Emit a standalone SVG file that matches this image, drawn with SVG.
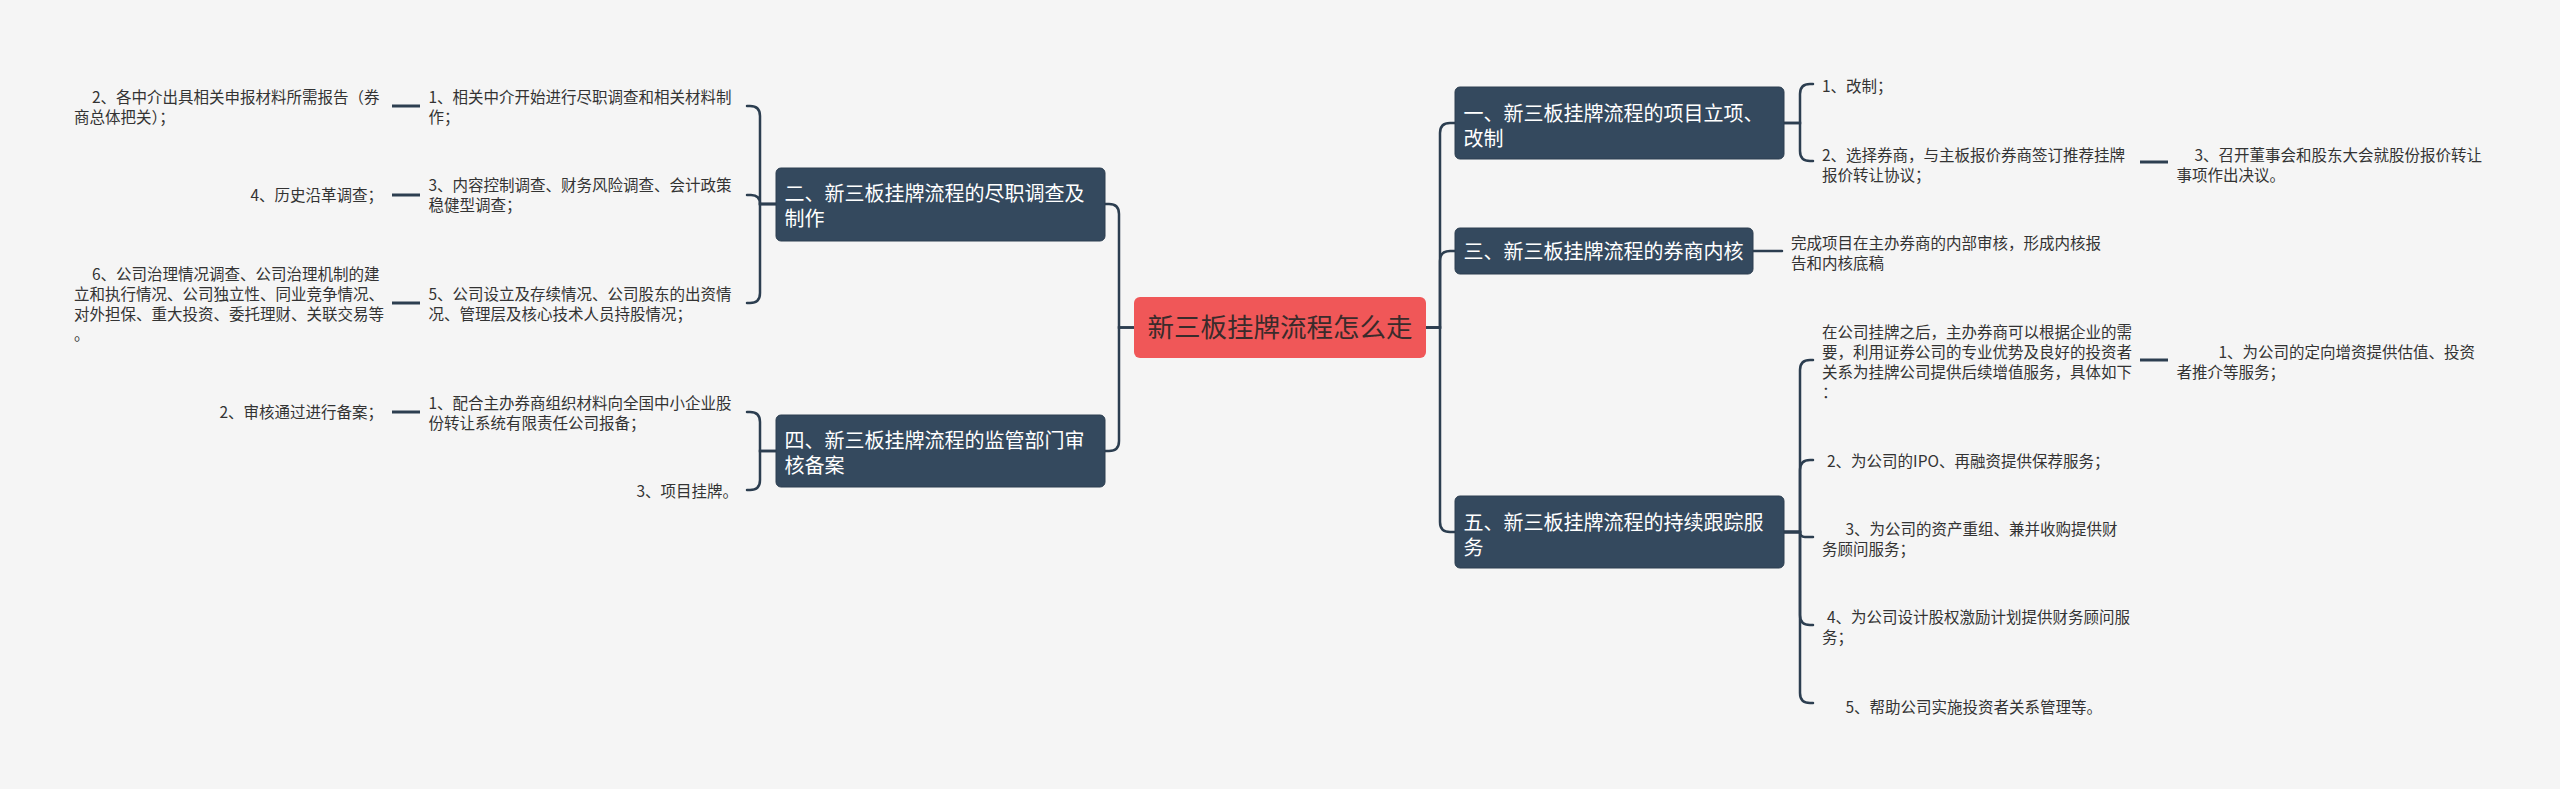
<svg xmlns="http://www.w3.org/2000/svg" width="2560" height="789" viewBox="0 0 2560 789">
<style>
.bg{fill:#f5f5f5}
.ln{fill:none;stroke:#2c3e50;stroke-width:2.5;stroke-linecap:round}
.dash{fill:none;stroke:#2c3e50;stroke-width:3}
.box{fill:#34495e;stroke:#2c3e50;stroke-width:1}
.root{fill:#f05758}
.t{font-family:"Noto Sans CJK SC","Noto Sans",sans-serif;font-size:15.5px;fill:#333333}
.h{font-family:"Noto Sans CJK SC","Noto Sans",sans-serif;font-size:20px;fill:#ffffff}
.r{font-family:"Noto Sans CJK SC","Noto Sans",sans-serif;font-size:26.5px;fill:#3a2b2b}
.e{text-anchor:end}
</style>
<rect class="bg" x="0" y="0" width="2560" height="789"/>
<g id="connectors">
<path class="ln" d="M1134,327.5 H1119 V214 Q1119,204 1109,204 H1105"/>
<path class="ln" d="M1134,327.5 H1119 V441 Q1119,451 1109,451 H1105"/>
<path class="ln" d="M1426,327.5 H1440 V133 Q1440,123 1450,123 H1455"/>
<path class="ln" d="M1426,327.5 H1440 V261 Q1440,251 1450,251 H1455"/>
<path class="ln" d="M1426,327.5 H1440 V522 Q1440,532 1450,532 H1455"/>
<path class="ln" d="M776,204 H760 V116 Q760,106 750,106 H747"/>
<path class="ln" d="M776,204 H760 Q760,195 751,195 H747"/>
<path class="ln" d="M776,204 H760 V293 Q760,303 750,303 H747"/>
<path class="ln" d="M776,451 H760 V422 Q760,412 750,412 H747"/>
<path class="ln" d="M776,451 H760 V480 Q760,490 750,490 H747"/>
<path class="dash" d="M420,106 H392"/>
<path class="dash" d="M420,195 H392"/>
<path class="dash" d="M420,303 H392"/>
<path class="dash" d="M420,412 H392"/>
<path class="ln" d="M1784,123 H1800 V94 Q1800,84 1810,84 H1813"/>
<path class="ln" d="M1784,123 H1800 V151 Q1800,161 1810,161 H1813"/>
<path class="dash" d="M2140,162 H2168"/>
<path class="ln" d="M1753,251 H1782"/>
<path class="ln" d="M1784,532 H1800 V370 Q1800,360 1810,360 H1813"/>
<path class="ln" d="M1784,532 H1800 V470 Q1800,460 1810,460 H1813"/>
<path class="ln" d="M1784,532 H1800 Q1800,537 1805,537 H1813"/>
<path class="ln" d="M1784,532 H1800 V615 Q1800,625 1810,625 H1813"/>
<path class="ln" d="M1784,532 H1800 V693 Q1800,703 1810,703 H1813"/>
<path class="dash" d="M2140,360 H2168"/>
</g>
<g id="root">
<rect class="root" x="1134" y="297" width="292" height="61" rx="6"/>
<text class="r" x="1280" y="337" text-anchor="middle">新三板挂牌流程怎么走</text>
</g>
<g id="n2">
<rect class="box" x="776" y="168" width="329" height="73" rx="5"/>
<text class="h" x="784.5" y="201">二、新三板挂牌流程的尽职调查及</text>
<text class="h" x="784.5" y="226">制作</text>
</g>
<g id="n4">
<rect class="box" x="776" y="415" width="329" height="72" rx="5"/>
<text class="h" x="784.5" y="448">四、新三板挂牌流程的监管部门审</text>
<text class="h" x="784.5" y="473">核备案</text>
</g>
<g id="n1">
<rect class="box" x="1455" y="87" width="329" height="72" rx="5"/>
<text class="h" x="1463.5" y="121">一、新三板挂牌流程的项目立项、</text>
<text class="h" x="1463.5" y="146">改制</text>
</g>
<g id="n3">
<rect class="box" x="1455" y="228" width="298" height="46" rx="5"/>
<text class="h" x="1463.5" y="259">三、新三板挂牌流程的券商内核</text>
</g>
<g id="n5">
<rect class="box" x="1455" y="496" width="329" height="72" rx="5"/>
<text class="h" x="1463.5" y="530">五、新三板挂牌流程的持续跟踪服</text>
<text class="h" x="1463.5" y="555">务</text>
</g>
<g id="n2-1">
<text class="t" x="428.5" y="102.6">1、相关中介开始进行尽职调查和相关材料制</text>
<text class="t" x="428.5" y="122.6">作；</text>
</g>
<g id="n2-1-1">
<text class="t" x="92" y="102.6">2、各中介出具相关申报材料所需报告（券</text>
<text class="t" x="74" y="122.6">商总体把关）；</text>
</g>
<g id="n2-3">
<text class="t" x="428.5" y="191">3、内容控制调查、财务风险调查、会计政策</text>
<text class="t" x="428.5" y="211">稳健型调查；</text>
</g>
<g id="n2-3-1">
<text class="t e" x="383" y="201">4、历史沿革调查；</text>
</g>
<g id="n2-5">
<text class="t" x="428.5" y="300">5、公司设立及存续情况、公司股东的出资情</text>
<text class="t" x="428.5" y="320">况、管理层及核心技术人员持股情况；</text>
</g>
<g id="n2-5-1">
<text class="t" x="92" y="280">6、公司治理情况调查、公司治理机制的建</text>
<text class="t" x="74" y="300">立和执行情况、公司独立性、同业竞争情况、</text>
<text class="t" x="74" y="320">对外担保、重大投资、委托理财、关联交易等</text>
<text class="t" x="74" y="340">。</text>
</g>
<g id="n4-1">
<text class="t" x="428.5" y="409">1、配合主办券商组织材料向全国中小企业股</text>
<text class="t" x="428.5" y="429">份转让系统有限责任公司报备；</text>
</g>
<g id="n4-1-1">
<text class="t e" x="383" y="418">2、审核通过进行备案；</text>
</g>
<g id="n4-3">
<text class="t e" x="738" y="497">3、项目挂牌。</text>
</g>
<g id="n1-1">
<text class="t" x="1822" y="92">1、改制；</text>
</g>
<g id="n1-2">
<text class="t" x="1822" y="161">2、选择券商，与主板报价券商签订推荐挂牌</text>
<text class="t" x="1822" y="181">报价转让协议；</text>
</g>
<g id="n1-2-1">
<text class="t" x="2194.5" y="161">3、召开董事会和股东大会就股份报价转让</text>
<text class="t" x="2176.5" y="181">事项作出决议。</text>
</g>
<g id="n3-1">
<text class="t" x="1791" y="248.6">完成项目在主办券商的内部审核，形成内核报</text>
<text class="t" x="1791" y="268.6">告和内核底稿</text>
</g>
<g id="n5-1">
<text class="t" x="1822" y="338.4">在公司挂牌之后，主办券商可以根据企业的需</text>
<text class="t" x="1822" y="358.4">要，利用证券公司的专业优势及良好的投资者</text>
<text class="t" x="1822" y="378.4">关系为挂牌公司提供后续增值服务，具体如下</text>
<text class="t" x="1822" y="398.4">：</text>
</g>
<g id="n5-1-1">
<text class="t" x="2218.5" y="357.6">1、为公司的定向增资提供估值、投资</text>
<text class="t" x="2176.5" y="377.6">者推介等服务；</text>
</g>
<g id="n5-2">
<text class="t" x="1827" y="466.6">2、为公司的IPO、再融资提供保荐服务；</text>
</g>
<g id="n5-3">
<text class="t" x="1845.5" y="535.2">3、为公司的资产重组、兼并收购提供财</text>
<text class="t" x="1822" y="555.2">务顾问服务；</text>
</g>
<g id="n5-4">
<text class="t" x="1827" y="623.2">4、为公司设计股权激励计划提供财务顾问服</text>
<text class="t" x="1822" y="643.2">务；</text>
</g>
<g id="n5-5">
<text class="t" x="1845.5" y="712.6">5、帮助公司实施投资者关系管理等。</text>
</g>
</svg>
